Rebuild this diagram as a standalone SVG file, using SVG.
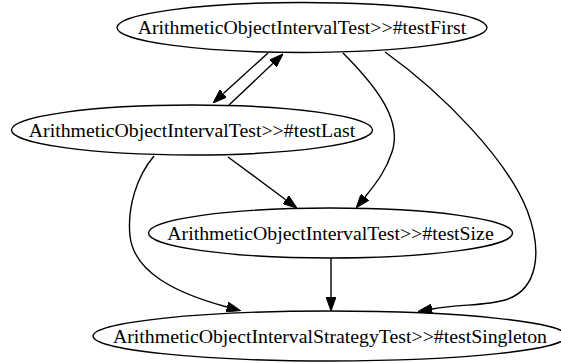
<svg xmlns="http://www.w3.org/2000/svg" width="561" height="363" viewBox="0 0 561 363">
<style>
.n ellipse{fill:none;stroke:#000;stroke-width:1.4}
.n text{font-family:"Liberation Serif","Times New Roman",serif;font-size:19.8px;text-anchor:middle;fill:#000}
.e path{fill:none;stroke:#000;stroke-width:1.4;marker-end:url(#ah)}
</style>
<defs>
<marker id="ah" viewBox="0 0 14 10" markerWidth="14" markerHeight="10" markerUnits="userSpaceOnUse" refX="0" refY="5" orient="auto">
<path d="M0,0 L14,5 L0,10 z" fill="#000" stroke="#000" stroke-width="1"/>
</marker>
</defs>
<rect width="561" height="363" fill="#fff"/>
<g id="edges" class="e">
<path d="M268,53 L223.4,93.5"/>
<path d="M229,105 L272.8,63.6"/>
<path d="M228,157 L285.7,199.7"/>
<path d="M343,53 C380,90 402,122 392,152 C386,170 378,181 365,197"/>
<path d="M385,52 C445,95 507,160 527,210 C543,252 538,290 505,300 C485,306 460,304 432,309"/>
<path d="M331,258 L331,297"/>
<path d="M154,156 C137,176 127,207 130,236 C134,272 175,293 227,307"/>
</g>
<g id="testFirst" class="n"><ellipse cx="302" cy="27.5" rx="185" ry="25"/><text x="302" y="34.2">ArithmeticObjectIntervalTest&gt;&gt;#testFirst</text></g>
<g id="testLast" class="n"><ellipse cx="192" cy="130" rx="180.5" ry="25"/><text x="192" y="136.7">ArithmeticObjectIntervalTest&gt;&gt;#testLast</text></g>
<g id="testSize" class="n"><ellipse cx="330.5" cy="233" rx="182" ry="25"/><text x="330.5" y="239.7">ArithmeticObjectIntervalTest&gt;&gt;#testSize</text></g>
<g id="testSingleton" class="n"><ellipse cx="330" cy="336" rx="237" ry="25"/><text x="330" y="342.7">ArithmeticObjectIntervalStrategyTest&gt;&gt;#testSingleton</text></g>
</svg>
